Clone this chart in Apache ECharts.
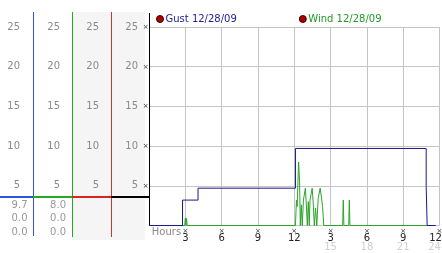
<!DOCTYPE html>
<html><head><meta charset="utf-8">
<script src="https://cdn.jsdelivr.net/npm/echarts@6/dist/echarts.min.js"></script>
<style>html,body{margin:0;padding:0;background:#fff}#c{width:442px;height:253px}</style>
</head><body><div id="c"></div>
<script>
// ---- data (hours since midnight, value) ----
const gustName = 'Gust 12/28/09';
const windName = 'Wind 12/28/09';
// gust: [time of change, new value] (step line)
const gustSteps = [[0,0],[2.77,3.2],[4.05,4.7],[12.1,9.7],[22.9,4.9],[22.98,0],[23.67,0]];
// wind samples
const windPoints = [
  [0,0],[2.95,0],[3.0,0.9],[3.05,0],[3.1,0.9],[3.15,0],
  [12.1,0],[12.18,3.2],[12.24,2.4],[12.36,8.0],[12.44,5.5],[12.5,0],[12.58,2.6],[12.66,0],
  [12.76,3.2],[12.92,4.7],[13.0,2.6],[13.08,0],[13.16,3.0],[13.24,0],[13.3,3.2],
  [13.48,4.7],[13.56,3.0],[13.66,0],[13.76,2.2],[13.86,0],[13.98,3.4],[14.14,4.7],
  [14.24,3.6],[14.34,2.4],[14.44,0],
  [16.0,0],[16.05,3.2],[16.1,0],[16.5,0],[16.55,3.2],[16.6,0],[23.67,0]
];
const yTicks = [5,10,15,20,25];
const hourLabels = ['Hours','3','6','9','12','3','6','9','12'];
const dayLabels  = ['','','','','','15','18','21','24'];
const gustStats = ['9.7','0.0','0.0'];
const windStats = ['8.0','0.0','0.0'];

const FONT = 'DejaVu Sans';
const chart = echarts.init(document.getElementById('c'), null, {renderer:'canvas'});

const TOP = 27, BOTTOM = 27.5;
function colGrid(left){ return {left:left, width:1, top:TOP, bottom:BOTTOM, outerBoundsMode:'none', containLabel:false}; }
function colY(gridIndex, margin){
  return {type:'value', gridIndex, min:0, max:25, interval:5,
    axisLine:{show:false}, axisTick:{show:false}, splitLine:{show:false},
    axisLabel:{margin, color:'#8a8a8a', fontFamily:FONT, fontSize:10,
      formatter: v => yTicks.includes(v) ? String(v) : ''}};
}
function hiddenX(gridIndex){ return {type:'value', gridIndex, show:false, min:0, max:1}; }

const lineGfx = (x1,y1,x2,y2,color,w) => ({type:'line', silent:true, z:50,
  shape:{x1,y1,x2,y2}, style:{stroke:color, lineWidth:w}});
const statText = (arr, right) => arr.map((t,i) => ({type:'text', silent:true, z:50,
  x:right, y:205 + i*13.5,
  style:{text:t, fill:'#999', font:'10px "DejaVu Sans"', align:'right', verticalAlign:'middle'}}));

chart.setOption({
  animation:false,
  backgroundColor:'#fff',
  textStyle:{fontFamily:FONT},
  legend:{
    left:156, top:14, padding:0, itemGap:62, itemWidth:7, itemHeight:7,
    icon:'circle',
    data:[
      {name:gustName, itemStyle:{color:'#aa0000', borderColor:'#440000', borderWidth:1},
       textStyle:{color:'#22229a'}},
      {name:windName, itemStyle:{color:'#aa0000', borderColor:'#440000', borderWidth:1},
       textStyle:{color:'#229922'}}
    ],
    textStyle:{fontFamily:FONT, fontSize:10, padding:[0,0,0,-3]}
  },
  grid:[
    {left:149, right:2.5, top:TOP, bottom:BOTTOM, outerBoundsMode:'none', containLabel:false},
    colGrid(33), colGrid(72), colGrid(111), colGrid(149)
  ],
  xAxis:[
    {type:'value', gridIndex:0, min:0, max:24, interval:3,
      axisLine:{show:false}, axisTick:{show:false},
      splitLine:{show:true, lineStyle:{color:'#c4c4c4', width:1}},
      axisLabel:{show:true, showMinLabel:true, showMaxLabel:true, margin:2.5, hideOverlap:false,
        formatter:(v)=>{
          const i = Math.round(v/3);
          if (i===0) return '{h|' + hourLabels[0] + '}';
          const last = i === hourLabels.length - 1;
          let s = '{x|×}\n{' + (last ? 'dl' : 'd') + '|' + hourLabels[i] + '}';
          if (dayLabels[i]) s += '\n{' + (last ? 'fl' : 'f') + '|' + dayLabels[i] + '}';
          return s;
        },
        rich:{
          x:{fontSize:7, lineHeight:6, color:'#333', fontFamily:FONT},
          d:{fontSize:10, lineHeight:9, color:'#222', fontFamily:FONT},
          f:{fontSize:10, lineHeight:9, color:'#cfcfcf', fontFamily:FONT},
          dl:{fontSize:10, lineHeight:9, color:'#222', fontFamily:FONT, padding:[0,8,0,0]},
          fl:{fontSize:10, lineHeight:9, color:'#cfcfcf', fontFamily:FONT, padding:[0,10,0,0]},
          h:{fontSize:10, lineHeight:8, color:'#8a8a8a', fontFamily:FONT, padding:[0,0,0,35]}
        }}},
    hiddenX(1), hiddenX(2), hiddenX(3), hiddenX(4)
  ],
  yAxis:[
    {type:'value', gridIndex:0, min:0, max:25, interval:5,
      axisLine:{show:true, lineStyle:{color:'#000', width:1}},
      axisTick:{show:false},
      splitLine:{show:true, lineStyle:{color:'#c4c4c4', width:1}},
      axisLabel:{margin:0.5, fontSize:7, color:'#333', fontFamily:FONT,
        formatter: v => yTicks.includes(v) ? '×' : ''}},
    colY(1,13), colY(2,12), colY(3,12), colY(4,11)
  ],
  series:[
    {name:windName, type:'line', xAxisIndex:0, yAxisIndex:0, data:windPoints,
      showSymbol:false, symbol:'none', lineStyle:{color:'#2aa52a', width:1}, itemStyle:{color:'#2aa52a'}, z:3},
    {name:gustName, type:'line', xAxisIndex:0, yAxisIndex:0, data:gustSteps, step:'end',
      showSymbol:false, symbol:'none', lineStyle:{color:'#1a1a8c', width:1}, itemStyle:{color:'#1a1a8c'}, z:4}
  ],
  graphic:[
    {type:'rect', silent:true, z:-10, shape:{x:72, y:12, width:73, height:228}, style:{fill:'#f5f5f5'}},
    lineGfx(33.5,12,33.5,236,'#2a55dd',1),
    lineGfx(72.5,12,72.5,237,'#22aa22',1),
    lineGfx(111.5,12,111.5,237,'#d83030',1),
    lineGfx(149.5,13,149.5,27,'#000',1),
    lineGfx(0,197,33,197,'#2a55dd',2),
    lineGfx(33,197,72,197,'#22aa22',2),
    lineGfx(72,197,111,197,'#dd2222',2),
    lineGfx(111,197,149,197,'#000',2),
    ...statText(gustStats, 27.5),
    ...statText(windStats, 66)
  ]
});
</script></body></html>
